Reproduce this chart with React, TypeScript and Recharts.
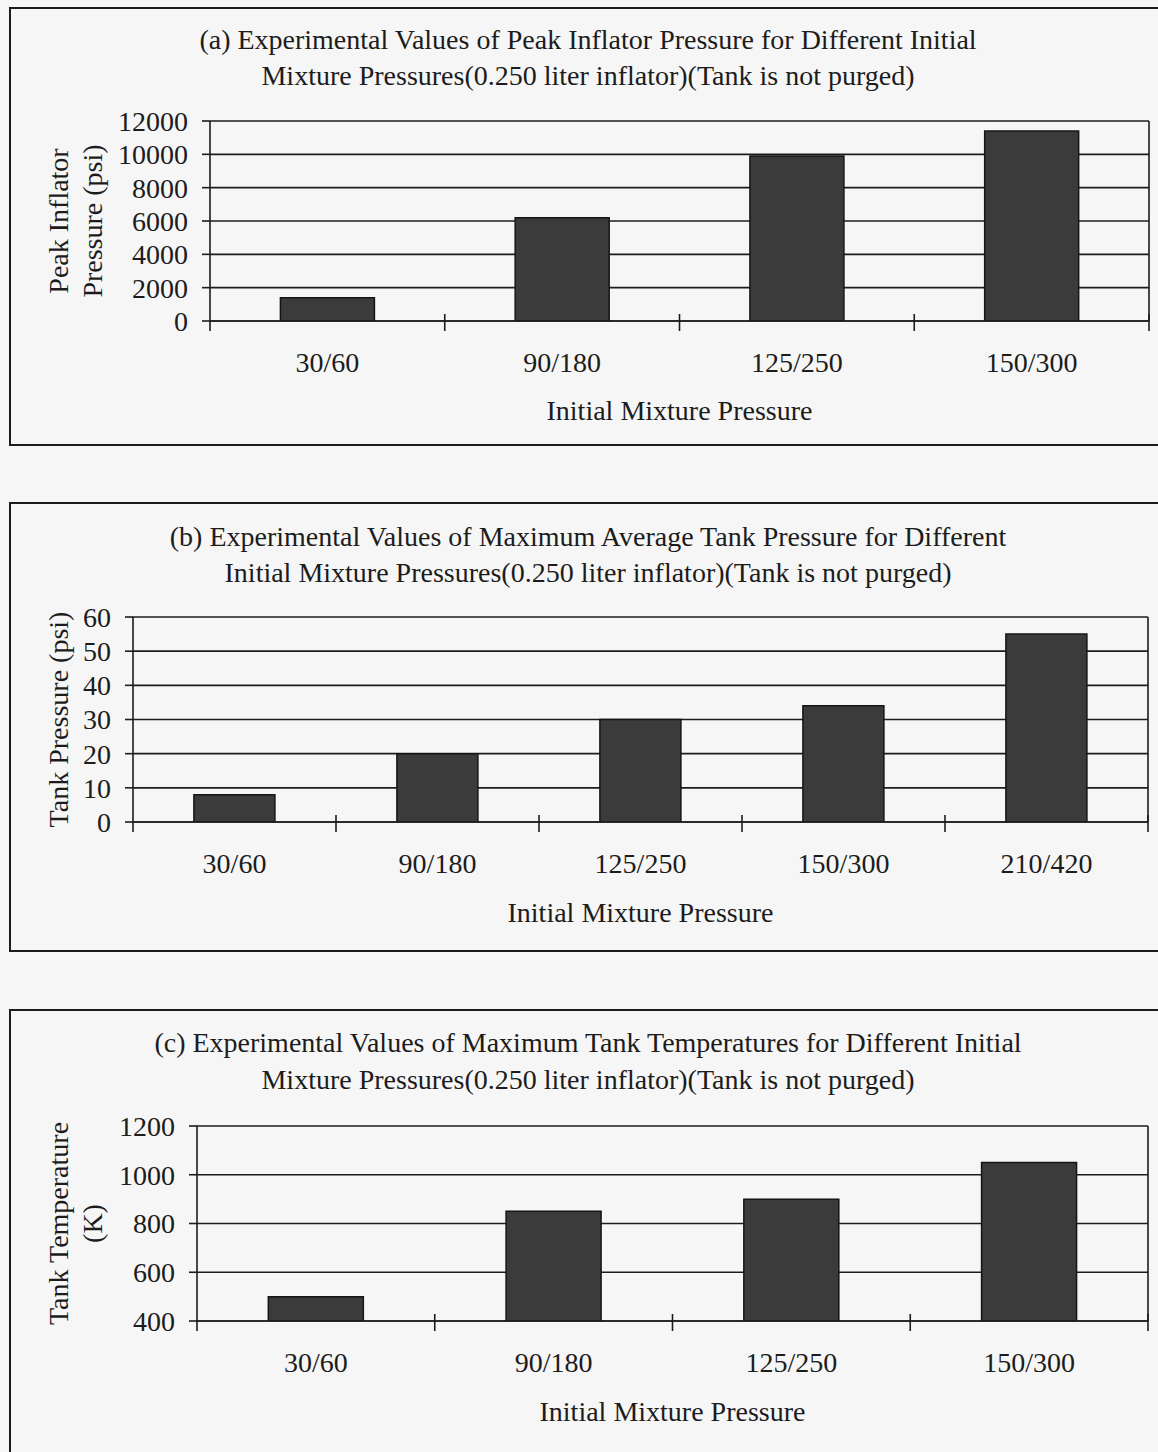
import React from 'react';
import { BarChart, Bar, XAxis, YAxis, CartesianGrid, Label } from 'recharts';

// ---- data ----
const categoriesA = ['30/60', '90/180', '125/250', '150/300'];
const peakInflatorPressure = [1400, 6200, 9900, 11400];
const ticksA = [0, 2000, 4000, 6000, 8000, 10000, 12000];

const categoriesB = ['30/60', '90/180', '125/250', '150/300', '210/420'];
const tankPressure = [8, 20, 30, 34, 55];
const ticksB = [0, 10, 20, 30, 40, 50, 60];

const categoriesC = ['30/60', '90/180', '125/250', '150/300'];
const tankTemperature = [500, 850, 900, 1050];
const ticksC = [400, 600, 800, 1000, 1200];

const titleA = [
  '(a) Experimental Values of Peak Inflator Pressure for Different Initial',
  'Mixture Pressures(0.250 liter inflator)(Tank is not purged)',
];
const titleB = [
  '(b) Experimental Values of Maximum Average Tank Pressure for Different',
  'Initial Mixture Pressures(0.250 liter inflator)(Tank is not purged)',
];
const titleC = [
  '(c) Experimental Values of Maximum Tank Temperatures for Different Initial',
  'Mixture Pressures(0.250 liter inflator)(Tank is not purged)',
];
const yLabelA = ['Peak Inflator', 'Pressure (psi)'];
const yLabelB = ['Tank Pressure (psi)'];
const yLabelC = ['Tank Temperature', '(K)'];
const xLabel = 'Initial Mixture Pressure';

const FONT = '"Liberation Serif", "Times New Roman", serif';
const FS = 28;
const INK = '#1c1c1c';
const W = 1158;
const TICK_MARGIN = 31;

type Cfg = {
  categories: string[];
  values: number[];
  ticks: number[];
  title: string[];
  yLabel: string[];
  frameTop: number;
  frameBottom: number;
  titleY: number[];
  plotTop: number;
  plotBottom: number;
  plotLeft: number;
  plotRight: number;
  yLabelX: number[];
  xTitleOffset: number;
};

const panels: Cfg[] = [
  {
    categories: categoriesA, values: peakInflatorPressure, ticks: ticksA, title: titleA, yLabel: yLabelA,
    frameTop: 7, frameBottom: 446, titleY: [40, 76],
    plotTop: 121, plotBottom: 321, plotLeft: 210, plotRight: 1149, yLabelX: [58, 92], xTitleOffset: 89,
  },
  {
    categories: categoriesB, values: tankPressure, ticks: ticksB, title: titleB, yLabel: yLabelB,
    frameTop: 502, frameBottom: 952, titleY: [537, 573],
    plotTop: 617, plotBottom: 822, plotLeft: 133, plotRight: 1148, yLabelX: [58], xTitleOffset: 90,
  },
  {
    categories: categoriesC, values: tankTemperature, ticks: ticksC, title: titleC, yLabel: yLabelC,
    frameTop: 1009, frameBottom: 1470, titleY: [1043, 1080],
    plotTop: 1126, plotBottom: 1321, plotLeft: 197, plotRight: 1148, yLabelX: [58, 92], xTitleOffset: 90,
  },
];

// category tick: label at band centre + small tick marks on the band boundaries
function CategoryTick(props: any) {
  const { x, y, payload, width, visibleTicksCount, index } = props;
  const bw = width / visibleTicksCount;
  const axisY = y - TICK_MARGIN;
  const right = x + bw / 2;
  const left = x - bw / 2;
  return (
    <g>
      {index === 0 && (
        <line x1={left} y1={axisY} x2={left} y2={axisY + 10} stroke={INK} strokeWidth={1.6} />
      )}
      <line x1={right} y1={axisY - 7} x2={right} y2={axisY + 10} stroke={INK} strokeWidth={1.6} />
      <text
        x={x}
        y={y}
        dy="0.71em"
        textAnchor="middle"
        fontFamily={FONT}
        fontSize={FS}
        fill={INK}
      >
        {payload.value}
      </text>
    </g>
  );
}

function Panel({ cfg }: { cfg: Cfg }) {
  const data = cfg.categories.map((c, i) => ({ cat: c, value: cfg.values[i] }));
  const chartTop = cfg.frameTop;
  const chartHeight = Math.min(cfg.frameBottom, 1452) - chartTop;
  const lo = cfg.ticks[0];
  const hi = cfg.ticks[cfg.ticks.length - 1];
  return (
    <>
      <div
        style={{
          position: 'absolute', left: 9, top: cfg.frameTop, width: 1167 - 9,
          height: cfg.frameBottom - cfg.frameTop, border: `2px solid ${INK}`, boxSizing: 'border-box',
        }}
      />
      {cfg.title.map((t, i) => (
        <div
          key={i}
          style={{
            position: 'absolute', left: 9, width: 1158, top: cfg.titleY[i] - 18, height: 36,
            lineHeight: '36px', textAlign: 'center', fontFamily: FONT, fontSize: FS, color: INK,
            whiteSpace: 'nowrap',
          }}
        >
          {t}
        </div>
      ))}
      <div style={{ position: 'absolute', left: 0, top: chartTop }}>
        <BarChart
          width={W}
          height={chartHeight}
          data={data}
          margin={{ top: cfg.plotTop - chartTop, right: W - cfg.plotRight, bottom: 0, left: 0 }}
          barCategoryGap="30%"
        >
          <CartesianGrid
            stroke={INK}
            strokeWidth={1.6}
            verticalCoordinatesGenerator={({ offset }: any) => [offset.left + offset.width]}
          />
          <XAxis
            dataKey="cat"
            height={chartHeight - (cfg.plotBottom - chartTop)}
            axisLine={{ stroke: INK, strokeWidth: 1.6 }}
            tickLine={false}
            tickSize={0}
            tickMargin={TICK_MARGIN}
            interval={0}
            tick={<CategoryTick />}
          >
            <Label
              content={(props: any) => {
                const vb = props.viewBox || {};
                return (
                  <text
                    x={vb.x + vb.width / 2}
                    y={vb.y + cfg.xTitleOffset}
                    textAnchor="middle"
                    dominantBaseline="central"
                    fontFamily={FONT}
                    fontSize={FS}
                    fill={INK}
                  >
                    {xLabel}
                  </text>
                );
              }}
            />
          </XAxis>
          <YAxis
            width={cfg.plotLeft}
            type="number"
            domain={[lo, hi]}
            ticks={cfg.ticks}
            interval={0}
            allowDataOverflow
            tickSize={8}
            tickMargin={14}
            axisLine={{ stroke: INK, strokeWidth: 1.6 }}
            tickLine={{ stroke: INK, strokeWidth: 1.6 }}
            tick={{ fontFamily: FONT, fontSize: FS, fill: INK }}
          >
            <Label
              content={(props: any) => {
                const vb = props.viewBox || {};
                const cy = vb.y + vb.height / 2;
                return (
                  <g>
                    {cfg.yLabel.map((line, i) => (
                      <text
                        key={i}
                        x={cfg.yLabelX[i]}
                        y={cy}
                        transform={`rotate(-90, ${cfg.yLabelX[i]}, ${cy})`}
                        textAnchor="middle"
                        dominantBaseline="central"
                        fontFamily={FONT}
                        fontSize={FS}
                        fill={INK}
                      >
                        {line}
                      </text>
                    ))}
                  </g>
                );
              }}
            />
          </YAxis>
          <Bar
            dataKey="value"
            fill="#3b3b3b"
            stroke="#151515"
            strokeWidth={1.5}
            isAnimationActive={false}
          />
        </BarChart>
      </div>
    </>
  );
}

export default function App() {
  return (
    <div
      style={{
        position: 'absolute', left: 0, top: 0, width: W, height: 1452, overflow: 'hidden',
        background: '#f6f6f6',
      }}
    >
      {panels.map((p, i) => (
        <Panel key={i} cfg={p} />
      ))}
    </div>
  );
}
